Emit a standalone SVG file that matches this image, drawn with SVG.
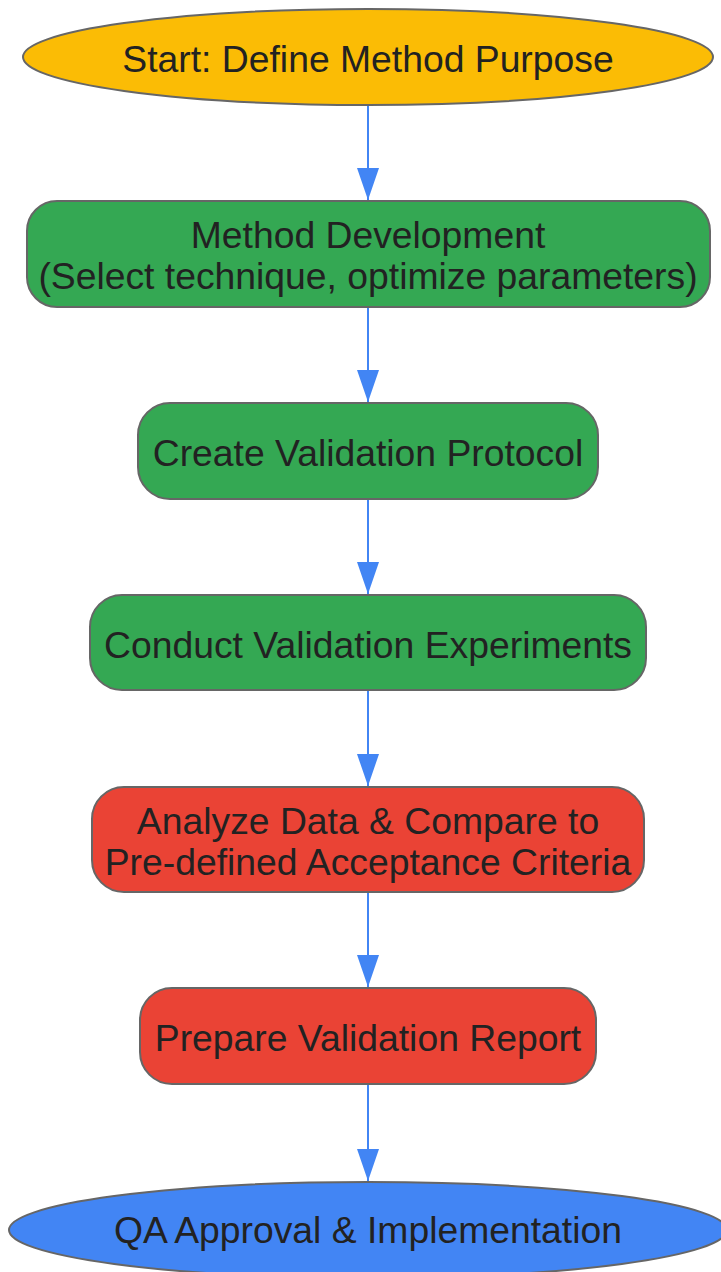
<svg xmlns="http://www.w3.org/2000/svg" width="721" height="1272" viewBox="0 0 721 1272">
<style>
.node{stroke:#666666;stroke-width:2}
.t{font-family:"Liberation Sans",Arial,sans-serif;font-size:37.3px;fill:#222222;text-anchor:middle}
.edge{stroke:#4285F4;stroke-width:2;fill:none}
</style>
<defs>
<marker id="arr" markerUnits="userSpaceOnUse" markerWidth="32" markerHeight="22" refX="32" refY="11" orient="auto" viewBox="0 0 32 22">
<path d="M0,0 L32,11 L0,22 Z" fill="#4285F4"/>
</marker>
</defs>
<rect width="721" height="1272" fill="#ffffff"/>
<g id="connectors">
<line class="edge" x1="368" y1="105" x2="368" y2="200" marker-end="url(#arr)"/>
<line class="edge" x1="368" y1="307" x2="368" y2="402" marker-end="url(#arr)"/>
<line class="edge" x1="368" y1="498" x2="368" y2="594" marker-end="url(#arr)"/>
<line class="edge" x1="368" y1="690" x2="368" y2="786" marker-end="url(#arr)"/>
<line class="edge" x1="368" y1="892" x2="368" y2="987" marker-end="url(#arr)"/>
<line class="edge" x1="368" y1="1084" x2="368" y2="1181" marker-end="url(#arr)"/>
</g>
<g id="start">
<ellipse class="node" cx="368" cy="57" rx="345" ry="48" fill="#FBBC05"/>
<text class="t" x="368" y="72">Start: Define Method Purpose</text>
</g>
<g id="dev">
<rect class="node" x="27" y="201" width="683" height="106" rx="30" fill="#34A853"/>
<text class="t" x="368" y="248">Method Development</text>
<text class="t" x="368" y="289">(Select technique, optimize parameters)</text>
</g>
<g id="protocol">
<rect class="node" x="138" y="403" width="460" height="96" rx="32" fill="#34A853"/>
<text class="t" x="368" y="466">Create Validation Protocol</text>
</g>
<g id="experiments">
<rect class="node" x="90" y="595" width="556" height="95" rx="32" fill="#34A853"/>
<text class="t" x="368" y="658">Conduct Validation Experiments</text>
</g>
<g id="analyze">
<rect class="node" x="92" y="787" width="552" height="105" rx="32" fill="#EA4335"/>
<text class="t" x="368" y="834">Analyze Data &amp; Compare to</text>
<text class="t" x="368" y="875">Pre-defined Acceptance Criteria</text>
</g>
<g id="report">
<rect class="node" x="140" y="988" width="456" height="96" rx="32" fill="#EA4335"/>
<text class="t" x="368" y="1051">Prepare Validation Report</text>
</g>
<g id="qa">
<ellipse class="node" cx="368" cy="1230" rx="359" ry="48" fill="#4285F4"/>
<text class="t" x="368" y="1243">QA Approval &amp; Implementation</text>
</g>
</svg>
